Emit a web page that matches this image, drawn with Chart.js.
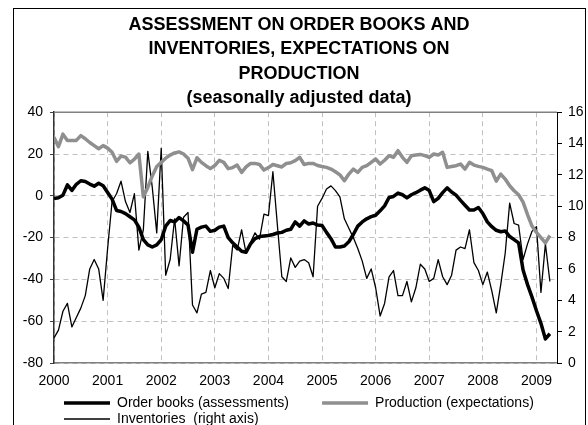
<!DOCTYPE html>
<html lang="en">
<head>
  <meta charset="UTF-8">
  <title>Order books, inventories, production</title>
  <script src="https://cdn.jsdelivr.net/npm/chart.js@4.4.1/dist/chart.umd.min.js"></script>
  <style>
    body { margin: 0; background: #fff; }
  </style>
</head>
<body>
  <canvas id="c0" width="588" height="425"></canvas>
  <script>
  // monthly data, Jan 2000 - Apr 2009
  var startYear = 2000;
  var years = [2000, 2001, 2002, 2003, 2004, 2005, 2006, 2007, 2008, 2009];

  var orderBooks = [
    -1.3, -0.9, 0.3, 5.2, 2.6, 5.5, 7.2, 6.8, 5.6, 4.6, 6.0, 4.8,
    1.6, -1.6, -7.0, -7.5, -8.5, -10.0, -11.5, -15.0, -21.0, -23.5, -24.5, -23.5,
    -21.0, -14.5, -11.8, -12.5, -10.4, -12.0, -14.0, -27.0, -16.0, -15.0, -14.5, -17.0,
    -16.5, -15.0, -14.5, -20.0, -22.5, -24.5, -26.5, -27.0, -23.0, -20.5, -19.5, -19.2,
    -19.0, -18.5, -17.8, -17.5, -16.5, -16.0, -12.5, -14.5, -12.0, -13.5, -13.0, -14.0,
    -14.2, -17.5, -20.5, -24.5, -24.5, -24.0, -22.0, -18.5, -14.5, -12.5, -11.0, -10.0,
    -9.3, -7.2, -4.8, -0.8, -0.3, 1.3, 0.5, -1.0, 0.5, 1.5, 2.7, 3.8,
    2.5, -2.8, -1.2, 1.5, 3.8, 1.8, 0.3, -2.2, -4.5, -6.8, -6.8, -5.6,
    -8.5, -12.5, -14.8, -16.5, -17.2, -16.8, -19.5, -21.0, -22.5, -35.5, -42.5, -48.5,
    -55.0, -61.0, -68.5, -66.0
  ];

  var production = [
    28.0, 23.5, 29.5, 26.5, 26.5, 26.5, 28.8, 27.3, 25.5, 24.0, 22.5, 24.0,
    22.8, 20.8, 16.5, 19.0, 18.5, 15.8, 17.5, 20.0, -0.5, 4.0, 9.5, 14.0,
    16.0, 18.0, 19.5, 20.5, 21.0, 20.0, 18.0, 12.5, 18.2, 16.0, 14.4, 13.0,
    14.5, 17.0, 16.0, 13.0, 13.5, 14.7, 11.2, 13.8, 15.5, 15.5, 15.0, 12.3,
    13.5, 15.0, 14.4, 13.8, 15.5, 15.8, 16.8, 18.4, 15.0, 15.5, 15.5, 14.5,
    14.0, 13.6, 12.8, 11.5, 10.0, 7.2, 10.4, 12.8, 11.2, 13.6, 14.4, 16.0,
    17.6, 15.2, 17.0, 19.2, 18.4, 21.6, 18.4, 16.0, 19.2, 19.5, 19.8, 19.2,
    18.4, 20.0, 19.5, 20.8, 13.6, 14.0, 14.4, 15.2, 12.8, 16.0, 14.7, 14.1,
    13.6, 12.8, 12.0, 7.0, 10.4, 8.0, 4.8, 2.4, 0.5, -3.0, -9.0, -14.5,
    -17.5, -20.0, -22.5, -19.0
  ];

  var inventories = [
    1.6, 2.1, 3.3, 3.8, 2.3, 2.9, 3.5, 4.3, 6.0, 6.6, 6.0, 4.0,
    7.3, 10.3, 10.8, 11.6, 10.3, 9.6, 10.8, 7.2, 8.5, 13.5, 11.2, 8.3,
    13.7, 5.6, 6.6, 9.2, 6.2, 9.3, 9.6, 3.7, 3.2, 4.4, 4.5, 5.9,
    4.8, 5.7, 5.4, 4.75, 7.5, 7.2, 8.5, 7.0, 7.7, 8.3, 7.9, 9.5,
    9.4, 12.2, 8.8, 5.5, 5.2, 6.7, 6.1, 6.5, 6.6, 6.4, 5.5, 10.0,
    10.5, 11.1, 11.3, 11.0, 10.6, 9.2, 8.6, 8.0, 7.3, 6.5, 5.4, 6.0,
    4.8, 3.0, 3.8, 5.5, 5.9, 4.3, 4.3, 5.2, 3.9, 4.8, 6.3, 6.0,
    5.2, 5.4, 6.6, 5.5, 5.0, 5.6, 7.2, 7.4, 7.3, 8.5, 6.4, 5.9,
    5.0, 5.8, 4.6, 3.2, 5.0, 7.0, 10.2, 8.9, 8.8, 6.6, 7.6, 8.4,
    8.7, 4.5, 7.6, 5.2
  ];

  function pts(values) {
    return values.map(function(v, i){ return {x: startYear + i / 12, y: v}; });
  }

  Chart.defaults.font.family = "'Liberation Sans', Arial, sans-serif";
  Chart.defaults.color = '#000';

  // top border of the plot, outer frame, legend pushed right
  var frame = { id: 'frame',
    afterLayout: function(ch){ ch.legend.left = 62; },
    beforeDatasetsDraw: function(ch){
      var ar = ch.chartArea, x = ch.ctx;
      x.save(); x.strokeStyle = '#808080'; x.lineWidth = 1.5;
      x.beginPath(); x.moveTo(ar.left, ar.top); x.lineTo(ar.right, ar.top); x.stroke();
      x.restore();
    },
    afterDraw: function(ch){
      var x = ch.ctx;
      x.save(); x.strokeStyle = '#000'; x.lineWidth = 1;
      x.strokeRect(13.5, 8.5, 572, 430);
      x.restore();
    } };

  new Chart(document.getElementById('c0'), {
    type: 'line',
    data: { datasets: [
      { label: 'Order books (assessments)        ', data: pts(orderBooks), yAxisID: 'y', borderColor: '#000', backgroundColor: '#000', borderWidth: 3.5 },
      { label: 'Production (expectations)', data: pts(production), yAxisID: 'y', borderColor: '#8f8f8f', backgroundColor: '#8f8f8f', borderWidth: 3.5 },
      { label: 'Inventories  (right axis)', data: pts(inventories), yAxisID: 'y2', borderColor: '#000', backgroundColor: '#000', borderWidth: 1.3 }] },
    options: {
      responsive: false, animation: false,
      layout: { padding: { left: 10, right: 0, top: 0, bottom: -11 } },
      elements: { point: { radius: 0 }, line: { tension: 0, borderJoinStyle: 'round' } },
      scales: {
        x: { type: 'linear', min: 2000, max: 2009.383,
             grid: { color: '#c0c0c0', lineWidth: 1, drawTicks: true, tickLength: 5, tickColor: 'rgba(0,0,0,0)' },
             border: { color: '#808080', width: 1.5, dash: [5, 4] },
             ticks: { stepSize: 1, includeBounds: false, autoSkip: false, maxRotation: 0, padding: 5, font: { size: 14, lineHeight: 16 / 14 },
                      callback: function(t){ return years.indexOf(t) >= 0 ? String(t) : ''; } } },
        y: { position: 'left', min: -80, max: 40,
             grid: { color: '#c0c0c0', lineWidth: 1, tickLength: 4, tickColor: '#404040' },
             border: { color: '#333', width: 1.5, dash: [5, 4] },
             ticks: { stepSize: 20, padding: 7, font: { size: 14 } },
             afterFit: function(s){ s.width = 44; } },
        y2: { position: 'right', min: 0, max: 16,
              grid: { drawOnChartArea: false, tickLength: 5, tickColor: '#000' },
              border: { color: '#000', width: 1 },
              ticks: { stepSize: 2, padding: 6, font: { size: 14 } },
              afterFit: function(s){ s.width = 31; } }
      },
      plugins: {
        title: { display: true,
                 text: ['ASSESSMENT ON ORDER BOOKS AND', 'INVENTORIES, EXPECTATIONS ON', 'PRODUCTION', '(seasonally adjusted data)'],
                 font: { size: 18, weight: 'bold', lineHeight: 24.3 / 18 }, padding: { top: 13, bottom: 2 } },
        legend: { position: 'bottom', align: 'start',
                  labels: { usePointStyle: true, pointStyle: 'line', pointStyleWidth: 46, padding: 2, font: { size: 14 } } },
        tooltip: { enabled: false }
      }
    },
    plugins: [frame]
  });
  </script>
</body>
</html>
